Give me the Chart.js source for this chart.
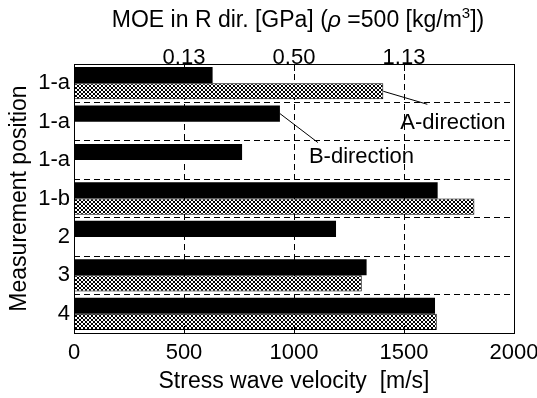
<!DOCTYPE html>
<html>
<head>
<meta charset="utf-8">
<script src="https://cdn.jsdelivr.net/npm/chart.js@4"></script>
<style>
  html, body { margin: 0; padding: 0; background: #fff; }
  #wrap { width: 537px; height: 398px; }
</style>
</head>
<body>
<div id="wrap"><canvas id="chart" width="537" height="398"></canvas></div>
<script>
const positions = ['1-a', '1-a', '1-a', '1-b', '2', '3', '4'];
const bDirection = [630, 936, 764, 1653, 1191, 1330, 1641];
const aDirection = [1406, null, null, 1820, null, 1308, 1649];
const velocityTicks = [0, 500, 1000, 1500, 2000];
const moeTickVelocities = [500, 1000, 1500];
const moeTickLabels = ['0.13', '0.50', '1.13'];

const FONT = "'Liberation Sans', Arial, sans-serif";
Chart.defaults.font.family = FONT;
Chart.defaults.font.size = 22;
Chart.defaults.color = '#000';

// fine cross-hatch fill
const makeHatch = () => {
    const c = document.createElement('canvas');
    c.width = 4; c.height = 4;
    const g = c.getContext('2d');
    g.fillStyle = '#fff';
    g.fillRect(0, 0, 4, 4);
    g.fillStyle = '#000';
    for (let i = 0; i < 4; i++) {
        g.fillRect(i, i, 1, 1);
        g.fillRect(3 - i, i, 1, 1);
    }
    return g.createPattern(c, 'repeat');
};

const clearAt = (vals) => (ctx) => (ctx.tick && vals.includes(ctx.tick.value)) ? 'rgba(0,0,0,0)' : '#000';

const framePlugin = {
    id: 'frame',
    afterDatasetsDraw(chart) {
        const { ctx, chartArea: a, scales } = chart;
        ctx.save();
        ctx.strokeStyle = '#000';
        ctx.lineWidth = 1;
        ctx.setLineDash([]);
        // small inward ticks top and bottom
        moeTickVelocities.forEach(v => {
            const x = Math.round(scales.x.getPixelForValue(v)) + 0.5;
            ctx.beginPath();
            ctx.moveTo(x, a.bottom); ctx.lineTo(x, a.bottom - 7);
            ctx.moveTo(x, a.top); ctx.lineTo(x, a.top + 7);
            ctx.stroke();
        });
        ctx.strokeRect(Math.round(a.left) + 0.5, Math.round(a.top) + 0.5,
            Math.round(a.right - a.left), Math.round(a.bottom - a.top));

        // leader lines and labels
        const aBar = chart.getDatasetMeta(1).data[0];
        const bBar = chart.getDatasetMeta(0).data[1];
        ctx.font = '22px ' + FONT;
        ctx.fillStyle = '#000';
        ctx.textBaseline = 'middle';
        ctx.textAlign = 'left';
        ctx.beginPath();
        ctx.moveTo(aBar.x, aBar.y);
        ctx.lineTo(aBar.x + 44, aBar.y + 13);
        ctx.moveTo(bBar.x, bBar.y);
        ctx.lineTo(bBar.x + 38, bBar.y + 29);
        ctx.stroke();
        ctx.fillText('A-direction', aBar.x + 17, aBar.y + 32);
        ctx.fillText('B-direction', bBar.x + 29, bBar.y + 43);

        // top axis title with italic rho and superscript
        const parts = [
            { t: 'MOE in R dir. [GPa] (', f: '23px ' + FONT, dy: 0 },
            { t: '\u03C1', f: 'italic 23px ' + FONT, dy: 0 },
            { t: ' =500 [kg/m', f: '23px ' + FONT, dy: 0 },
            { t: '3', f: '15px ' + FONT, dy: -9 },
            { t: '])', f: '23px ' + FONT, dy: 0 }
        ];
        let total = 0;
        parts.forEach(p => { ctx.font = p.f; p.w = ctx.measureText(p.t).width; total += p.w; });
        let x = (a.left + a.right) / 2 - total / 2 + 4;
        ctx.textBaseline = 'alphabetic';
        parts.forEach(p => {
            ctx.font = p.f;
            ctx.fillText(p.t, x, 27 + p.dy);
            x += p.w;
        });
        ctx.restore();
    }
};

new Chart(document.getElementById('chart'), {
    type: 'bar',
    data: {
        labels: positions,
        datasets: [{
            label: 'B-direction',
            data: bDirection,
            backgroundColor: '#000',
            borderWidth: 0,
            categoryPercentage: 0.84,
            barPercentage: 1
        }, {
            label: 'A-direction',
            data: aDirection,
            backgroundColor: makeHatch(),
            borderColor: '#000',
            borderWidth: 1,
            categoryPercentage: 0.84,
            barPercentage: 1
        }]
    },
    options: {
        indexAxis: 'y',
        responsive: false,
        animation: false,
        devicePixelRatio: 1,
        layout: { padding: { top: 0, left: 0, right: 23, bottom: 0 } },
        plugins: { legend: { display: false }, tooltip: { enabled: false } },
        scales: {
            x: {
                type: 'linear',
                position: 'bottom',
                min: 0,
                max: 2000,
                afterBuildTicks: s => { s.ticks = velocityTicks.map(v => ({ value: v })); },
                afterFit: s => { s.height = 65; s.paddingLeft = 0; s.paddingRight = 0; },
                grid: { color: clearAt([0, 2000]), lineWidth: 1, drawTicks: false },
                border: { display: false, dash: [6, 4] },
                ticks: { padding: 7, font: { size: 22 }, callback: v => String(v) },
                title: { display: true, text: 'Stress wave velocity  [m/s]', font: { size: 23 }, padding: { top: 0, bottom: 3 } }
            },
            x2: {
                type: 'linear',
                position: 'top',
                min: 0,
                max: 2000,
                afterBuildTicks: s => { s.ticks = velocityTicks.map(v => ({ value: v })); },
                afterFit: s => { s.height = 64; s.paddingLeft = 0; s.paddingRight = 0; },
                grid: { drawOnChartArea: false, drawTicks: false },
                border: { display: false },
                ticks: {
                    padding: -7,
                    font: { size: 22 },
                    callback: v => {
                        const i = moeTickVelocities.indexOf(v);
                        return i >= 0 ? moeTickLabels[i] : '';
                    }
                }
            },
            y: {
                type: 'category',
                grid: { offset: true, color: ctx => (ctx.index === 0 || ctx.index === positions.length) ? 'rgba(0,0,0,0)' : '#000', drawTicks: false },
                border: { display: false, dash: [6, 4] },
                afterFit: s => { s.width = 74; },
                ticks: { padding: 4, font: { size: 22 } },
                title: { display: true, text: 'Measurement position', font: { size: 23 }, padding: { top: 6, bottom: 0 } }
            }
        }
    },
    plugins: [framePlugin]
});
</script>
</body>
</html>
